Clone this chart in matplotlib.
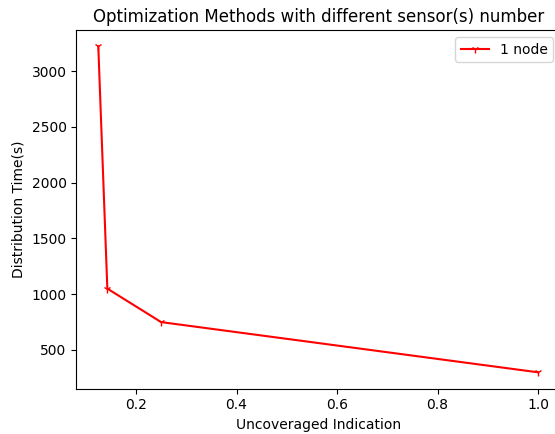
import matplotlib
matplotlib.use('Agg')
import matplotlib.pyplot as plt

# 未覆盖指标与分发时间
uncovered = [0.125, 0.143, 0.25, 1.0]
dist_time = [3220, 1050, 750, 300]
series_label = '1 node'


def plot_methods():
    fig = plt.figure(figsize=(5.55, 4.34), dpi=100)
    ax = fig.add_axes([0.1375, 0.1046, 0.8716, 0.8258])
    ax.plot(uncovered, dist_time, color='red', marker='1', label=series_label)
    ax.set_title('Optimization Methods with different sensor(s) number')
    ax.set_xlabel('Uncoveraged Indication')
    ax.set_ylabel('Distribution Time(s)')
    ax.legend(loc='upper right')
    fig.savefig('out.png', dpi=100)


if __name__ == '__main__':
    plot_methods()
